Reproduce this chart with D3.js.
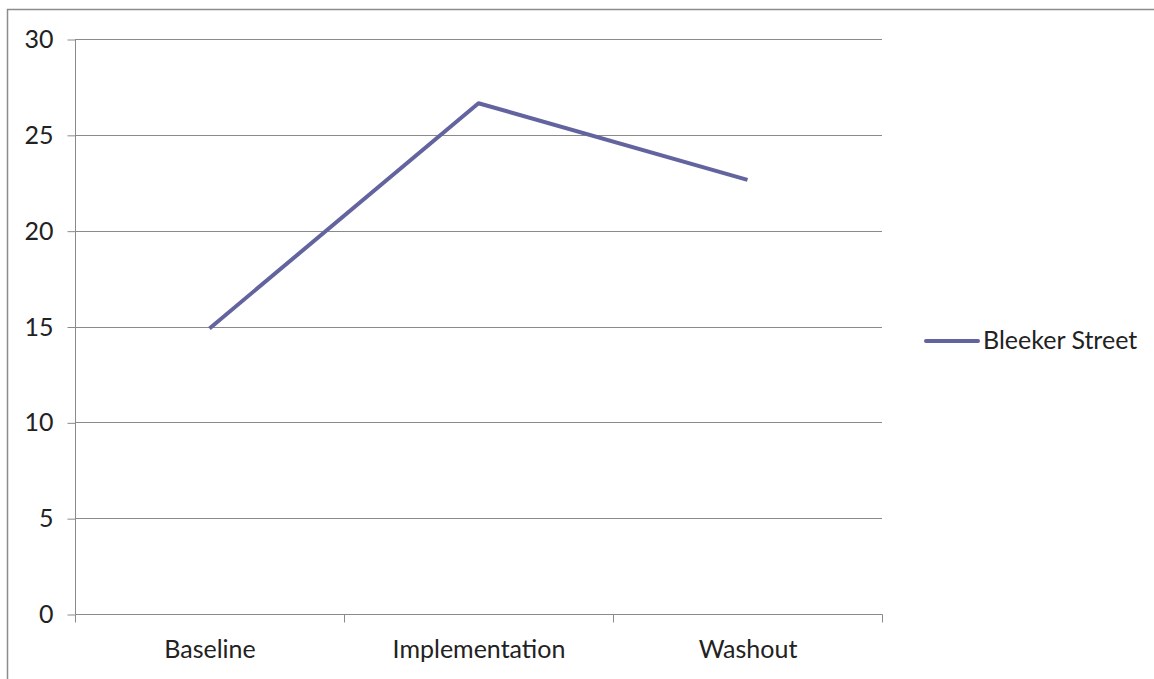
<!DOCTYPE html>
<html><head><meta charset="utf-8">
<script src="https://cdn.jsdelivr.net/npm/d3@7"></script>
<style>body{margin:0;background:#fff}svg{display:block}</style>
</head><body>
<script>
const categories = ["Baseline", "Implementation", "Washout"];
const seriesName = "Bleeker Street";
const values = [14.9, 26.65, 22.65];
const yTicks = [0, 5, 10, 15, 20, 25, 30];

const W = 1154, H = 679;
const m = {left: 75, right: 882, top: 39, bottom: 614};
const font = "Lato, 'Open Sans', sans-serif";
const fs = 25;
const svg = d3.select("body").append("svg").attr("width", W).attr("height", H);

svg.append("path").attr("d", `M7.5,${H}V9.5H${W}`).attr("fill", "none").attr("stroke", "#8c8c8c").attr("stroke-width", 1.5);

const x = d3.scaleBand().domain(categories).range([m.left, m.right]);
const y = d3.scaleLinear().domain([0, 30]).range([m.bottom, m.top]);

// gridlines
svg.append("g").selectAll("line").data(yTicks.filter(d => d > 0)).join("line")
  .attr("x1", m.left).attr("x2", m.right)
  .attr("y1", d => Math.round(y(d)) + 0.5).attr("y2", d => Math.round(y(d)) + 0.5)
  .attr("stroke", "#8a8a8a").attr("stroke-width", 1);

// y axis
const ya = svg.append("g").attr("transform", `translate(${m.left + 0.5},0.5)`)
  .call(d3.axisLeft(y).tickValues(yTicks).tickSize(8).tickPadding(14));
ya.select(".domain").attr("stroke", "#8a8a8a").attr("d", `M0,${m.top}V${m.bottom}`);
ya.selectAll(".tick line").attr("stroke", "#8a8a8a");
ya.selectAll("text").attr("font-family", font).attr("font-size", fs).attr("fill", "#222");

// x axis
const xa = svg.append("g").attr("transform", `translate(0.5,${m.bottom + 0.5})`)
  .call(d3.axisBottom(x).tickSize(0).tickPadding(26));
xa.select(".domain").attr("stroke", "#8a8a8a").attr("d", `M${m.left},0H${m.right}`);
xa.selectAll("text").attr("font-family", font).attr("font-size", fs).attr("fill", "#222");
const bounds = [m.left].concat(categories.map(c => x(c) + x.bandwidth()));
xa.selectAll(".sep").data(bounds).join("line").attr("class", "sep")
  .attr("x1", d => Math.round(d)).attr("x2", d => Math.round(d)).attr("y1", 0).attr("y2", 8)
  .attr("stroke", "#8a8a8a");

// line
const line = d3.line().x((d, i) => x(categories[i]) + x.bandwidth() / 2).y(d => y(d));
svg.append("path").datum(values).attr("d", line).attr("fill", "none")
  .attr("stroke", "#63649f").attr("stroke-width", 4).attr("stroke-linejoin", "round").attr("stroke-linecap", "butt");

// legend
const lg = svg.append("g").attr("transform", "translate(926,341)");
lg.append("line").attr("x1", 0).attr("x2", 52).attr("stroke", "#63649f").attr("stroke-width", 4).attr("stroke-linecap", "round");
lg.append("text").attr("x", 57).attr("y", 8).text(seriesName).attr("font-family", font).attr("font-size", fs).attr("fill", "#222");
</script>
</body></html>
